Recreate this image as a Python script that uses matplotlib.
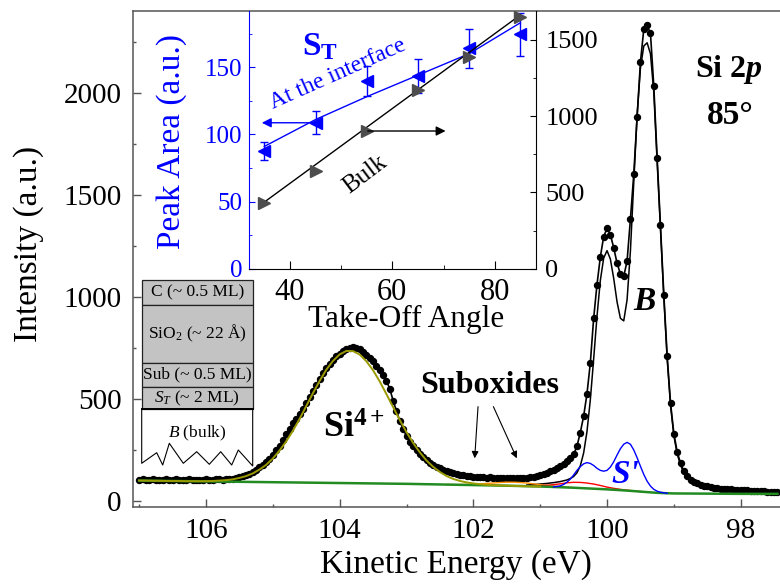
import numpy as np
import matplotlib
matplotlib.use('Agg')
import matplotlib.pyplot as plt
from matplotlib.patches import Rectangle
from matplotlib.ticker import MultipleLocator

plt.rcParams['font.family'] = ['Liberation Serif', 'DejaVu Serif']
plt.rcParams['mathtext.fontset'] = 'custom'
plt.rcParams['mathtext.rm'] = 'Liberation Serif'
plt.rcParams['mathtext.it'] = 'Liberation Serif:italic'
plt.rcParams['mathtext.bf'] = 'Liberation Serif:bold'
plt.rcParams['mathtext.bfit'] = 'Liberation Serif:italic:bold'

# ---------------- main spectrum data (Si 2p, 85 deg) ----------------
E_START = 107.0
E_STEP = 0.05
counts = [
    104, 106, 103, 105, 107, 104, 105, 103, 106, 104,
    105, 107, 104, 103, 105, 106, 104, 105, 103, 104,
    106, 105, 104, 106, 107, 105, 108, 107, 109,
    112, 117, 121, 128, 134, 143, 152, 165, 178, 190,
    205, 225, 248, 270, 298, 328, 355, 380, 402, 425,
    452, 480, 510, 540, 570, 598, 625, 650, 672, 692,
    710, 722, 735, 745, 750, 753, 750, 742, 730, 716,
    700, 684, 662, 640, 616, 590, 548, 492, 440, 392,
    352, 318, 290, 268, 248, 230, 214, 200, 188, 177,
    168, 160, 153, 147, 142, 138, 133, 129, 126, 123,
    121, 119, 118, 116, 117, 115, 116, 114, 115, 113,
    114, 112, 114, 113, 112, 114, 113, 115, 117, 119,
    122, 125,
    130, 137, 145, 153, 162, 172, 183, 195, 210, 228,
    268, 335, 415, 525, 675, 895, 1060, 1195, 1295, 1335,
    1305, 1240, 1165, 1112, 1100, 1175, 1380, 1600, 1880, 2150,
    2310, 2330, 2290, 2030, 1680, 1350, 1010, 710, 480, 330,
    240, 185, 145, 120, 105, 95, 87, 80, 75, 71,
    68, 65, 63, 61, 59, 58, 57, 56, 55, 54,
    53, 52, 51, 50, 49, 48, 47, 46, 45, 45,
    44,
]
energy = np.round(E_START - E_STEP * np.arange(len(counts)), 2)

# Si4+ component (on background), 0.1 eV steps from 107.0 eV
SI4_START = 107.0
SI4_STEP = 0.1
si4_fit = [
    100, 100, 99, 99, 98, 98, 98, 97, 97, 97,
    97, 98, 100, 102, 106, 113, 122, 135, 154, 177,
    208, 247, 292, 344, 402, 465, 528, 588, 643, 686,
    718, 735, 734, 717, 684, 640, 585, 523, 460, 396,
    337, 284, 238, 198, 167, 142, 122, 108, 98, 91,
    86, 82, 79, 77, 76, 75, 74, 73, 72, 71.5, 71,
]
si4_energy = np.round(SI4_START - SI4_STEP * np.arange(len(si4_fit)), 2)

# background
bg_energy = [107.0, 106.0, 105.0, 104.0, 103.0, 102.5, 102.0, 101.5, 101.0,
             100.5, 100.0, 99.9, 99.75, 99.6, 99.5, 99.4, 99.25, 99.1, 99.0,
             98.5, 98.0, 97.45]
bg_fit = [100, 96, 92, 88, 84, 81, 78, 75, 71,
          65, 57, 55, 52, 48.5, 46, 43.5, 40, 38, 37,
          36, 35, 35]

# bulk component B (on background)
b_energy = [101.2, 101.0, 100.9, 100.8, 100.7, 100.6, 100.55, 100.5, 100.45, 100.4,
            100.35, 100.3, 100.25, 100.2, 100.15, 100.1, 100.05, 100.0, 99.95, 99.9,
            99.85, 99.8, 99.75, 99.7, 99.65, 99.6, 99.55, 99.5, 99.45, 99.4,
            99.35, 99.3, 99.25, 99.2, 99.15, 99.1, 99.05, 99.0, 98.95, 98.9,
            98.85, 98.8, 98.75, 98.7, 98.65, 98.6, 98.55, 98.5, 98.4, 98.3,
            98.2, 98.0, 97.8, 97.6, 97.45]
b_fit = [78, 83, 86, 90, 95, 103, 110, 120, 138, 172,
         235, 340, 495, 695, 905, 1080, 1190, 1226, 1185, 1090,
         975, 895, 882, 985, 1225, 1560, 1890, 2120, 2228, 2244,
         2190, 2000, 1660, 1330, 995, 695, 468, 320, 230, 176,
         138, 113, 98, 88, 80, 74, 69, 65, 60, 57,
         55, 52, 49, 46, 44]

# S' component (on background), 0.05 eV steps from 100.80 eV
SP_START = 100.80
SP_STEP = 0.05
sprime_fit = [69, 71, 74, 81, 92, 107, 127, 150, 168, 182,
              188, 184, 174, 160, 150, 146, 150, 166, 192, 225,
              256, 278, 287, 278, 250, 212, 170, 130, 97, 73,
              57, 48, 43, 40, 38]
sprime_energy = np.round(SP_START - SP_STEP * np.arange(len(sprime_fit)), 2)

# suboxide components (on background), 0.1 eV steps
RED_START = 101.2
red_fit = [73, 74, 75, 77, 80, 84, 89, 91.5, 91, 88, 83, 76, 68, 62, 57, 53, 49.5, 46]
red_energy = np.round(RED_START - 0.1 * np.arange(len(red_fit)), 2)
ORA_START = 102.4
orange_fit = [81, 80.5, 80.5, 81, 82, 84, 86, 88, 90.5, 92, 92, 90.5, 88, 84, 80, 76,
              73, 70, 67.5, 65.5, 63.7]
orange_energy = np.round(ORA_START - 0.1 * np.arange(len(orange_fit)), 2)

# ---------------- inset data ----------------
angles = [35, 45, 55, 65, 75, 85]
st_area = [87.7, 108.6, 139.8, 143.3, 163.9, 174.5]
st_err = [6.8, 8.7, 11.0, 12.9, 14.3, 16.0]
st_fit = [91, 111, 128, 144, 160, 183]
bulk_area = [433, 641, 903, 1172, 1386, 1652]
bulk_fit_angles = [35, 85]
bulk_fit = [437, 1664]

# ---------------- figure ----------------
fig = plt.figure(figsize=(7.8, 5.86), dpi=100)
ax = fig.add_axes([0.1701, 0.1353, 0.8299, 0.8464])
ax.set_zorder(0)

ax.plot(b_energy, b_fit, color='k', lw=1.1, zorder=3)
ax.plot(energy, counts, '-', color='k', lw=1.2, marker='o', ms=4.3, zorder=4)
ax.plot(orange_energy, orange_fit, color='#ff8c00', lw=1.0, zorder=5)
ax.plot(red_energy, red_fit, color='#ff0000', lw=1.0, zorder=5)
ax.plot(bg_energy, bg_fit, color='#228B22', lw=1.8, zorder=6)
ax.plot(si4_energy, si4_fit, color='#9a9a00', lw=1.4, zorder=6)
ax.plot(sprime_energy, sprime_fit, color='#0000ff', lw=1.0, zorder=6)

ax.set_xlim(107.097, 97.412)
ax.set_ylim(-28, 2401)
ax.xaxis.set_major_locator(MultipleLocator(2))
ax.xaxis.set_minor_locator(MultipleLocator(1))
ax.yaxis.set_major_locator(MultipleLocator(500))
ax.yaxis.set_minor_locator(MultipleLocator(250))
ax.tick_params(which='both', direction='in', colors='#555555', labelcolor='k',
               labelsize=21, top=False, right=False, width=1)
ax.tick_params(which='major', length=5.5)
ax.tick_params(which='minor', length=2.5)
ax.tick_params(axis='x', pad=8)
ax.tick_params(axis='y', pad=8)
for s in ['left', 'bottom', 'top']:
    ax.spines[s].set_color('#555555')
    ax.spines[s].set_linewidth(1.1)
ax.spines['right'].set_visible(False)
ax.set_xlabel('Kinetic Energy (eV)', fontsize=24, labelpad=4)
ax.set_ylabel('Intensity (a.u.)', fontsize=24)
ax.yaxis.set_label_coords(-0.137, 0.53)

ax.text(98.17, 2078, r'Si 2$\mathbfit{p}$', fontweight='bold', fontsize=23,
        ha='center', va='baseline')
ax.text(98.16, 1847, '85°', fontweight='bold', fontsize=24, ha='center', va='baseline')
ax.text(99.44, 936, 'B', fontstyle='italic', fontweight='bold', fontsize=24,
        ha='center', va='baseline', zorder=8)
ax.text(99.73, 87, "S'", fontstyle='italic', fontweight='bold', fontsize=24,
        color='#0000ff', ha='center', va='baseline', zorder=8)
ax.text(103.79, 309, r'Si$^{\mathbf{4+}}$', fontweight='bold', fontsize=26,
        ha='center', va='baseline', zorder=8)
ax.text(101.75, 527, 'Suboxides', fontweight='bold', fontsize=23,
        ha='center', va='baseline', zorder=8)
arrow_kw = dict(arrowstyle='-|>', lw=0.8, color='k', mutation_scale=10,
                shrinkA=0, shrinkB=0)
ax.annotate('', xy=(101.98, 209), xytext=(101.93, 462), arrowprops=arrow_kw)
ax.annotate('', xy=(101.35, 209), xytext=(101.70, 462), arrowprops=arrow_kw)

# ---------------- layer schematic (decoration) ----------------
ov = fig.add_axes([0, 0, 1, 1])
ov.set_zorder(1)
ov.set_xlim(0, 780)
ov.set_ylim(586, 0)
ov.axis('off')
ov.patch.set_alpha(0)
bx0, bx1 = 141.7, 252.7
layers = [(280, 305, 'C (~ 0.5 ML)'),
          (305, 362.7, r'SiO$_2$ (~ 22 Å)'),
          (362.7, 386.7, 'Sub (~ 0.5 ML)'),
          (386.7, 409.3, r'$S_T$ (~ 2 ML)')]
for top, bot, lab in layers:
    ov.add_patch(Rectangle((bx0, top), bx1 - bx0, bot - top, facecolor='#c3c3c3',
                           edgecolor='#222222', lw=0.9))
    ov.text((bx0 + bx1) / 2, (top + bot) / 2, lab, ha='center', va='center', fontsize=12.5)
zig_x = [bx0, bx0, 156.7, 162.7, 169.3, 183.3, 196.7, 209.3, 220.7, 231.7, 238.3, bx1, bx1]
zig_y = [409.3, 463.3, 452.7, 465, 443.3, 463.3, 451.7, 464.3, 451.7, 465, 450, 466, 409.3]
ov.plot(zig_x, zig_y, color='k', lw=0.8)
ov.plot([bx0, bx1], [409.3, 409.3], color='k', lw=1.4)
ov.text((bx0 + bx1) / 2, 433.3, r'$B$ (bulk)', ha='center', va='center', fontsize=12.5)

# ---------------- inset ----------------
ax_in = fig.add_axes([249 / 780, (586 - 268.7) / 586, 286.7 / 780, 258 / 586])
ax_in.set_zorder(3)
ax_in.patch.set_alpha(0)
ax_r = ax_in.twinx()
ax_r.set_zorder(4)

ax_in.plot(angles, st_fit, color='#0000ff', lw=1.0)
ax_in.errorbar(angles, st_area, yerr=st_err, fmt='none', ecolor='#0000ff',
               elinewidth=1.0, capsize=3, capthick=1.0)
ax_in.plot(angles, st_area, '<', color='#0000ff', ms=8, mec='#0000ff')
ax_r.plot(bulk_fit_angles, bulk_fit, '-', color='k', lw=1.0)
ax_r.plot(angles, bulk_area, '>', color='#4d4d4d', ms=8.6, mec='#4d4d4d')

ax_in.set_xlim(32, 88)
ax_in.set_ylim(0, 192)
ax_r.set_ylim(0, 1692)
ax_in.xaxis.set_major_locator(MultipleLocator(20))
ax_in.xaxis.set_minor_locator(MultipleLocator(10))
ax_in.yaxis.set_major_locator(MultipleLocator(50))
ax_in.yaxis.set_minor_locator(MultipleLocator(25))
ax_r.yaxis.set_major_locator(MultipleLocator(500))
ax_r.yaxis.set_minor_locator(MultipleLocator(250))

ax_in.tick_params(axis='x', which='both', direction='in', top=False, labelsize=22,
                  pad=7, colors='k')
ax_in.tick_params(axis='x', which='major', length=6)
ax_in.tick_params(axis='x', which='minor', length=2.8)
ax_in.tick_params(axis='y', which='both', direction='in', colors='#0000ff',
                  labelsize=18, pad=5)
ax_in.tick_params(axis='y', which='major', length=4.5)
ax_in.tick_params(axis='y', which='minor', length=2.5)
ax_r.tick_params(axis='y', which='both', direction='in', colors='k', labelsize=19, pad=7)
ax_r.tick_params(axis='y', which='major', length=4.5)
ax_r.tick_params(axis='y', which='minor', length=2.5)

ax_in.spines['top'].set_visible(False)
ax_in.spines['right'].set_visible(False)
ax_in.spines['left'].set_color('#0000ff')
ax_r.spines['top'].set_visible(False)
ax_r.spines['left'].set_visible(False)
ax_r.spines['bottom'].set_visible(False)

ax_in.text(0.547, -0.226, 'Take-Off Angle', transform=ax_in.transAxes,
           ha='center', va='baseline', fontsize=22.5)
ax_in.text(-0.27, 0.492, 'Peak Area (a.u.)', transform=ax_in.transAxes, rotation=90,
           ha='center', va='center', fontsize=24, color='#0000ff')
ax_in.text(45.96, 158.9, r'S$_{\mathbf{T}}$', color='#0000ff', fontweight='bold',
           fontsize=24, ha='center', va='baseline')
ax_in.text(49.3, 144.8, 'At the interface', rotation=24, rotation_mode='anchor',
           ha='center', va='center', color='#0000ff', fontsize=17)
ax_in.text(54.6, 69.7, 'Bulk', rotation=37, rotation_mode='anchor',
           ha='center', va='center', color='k', fontsize=18)
ax_in.annotate('', xy=(34.5, st_area[1]), xytext=(44.2, st_area[1]),
               arrowprops=dict(arrowstyle='-|>', color='#0000ff', lw=1.0,
                               mutation_scale=14, shrinkA=0, shrinkB=0))
ax_r.annotate('', xy=(70.4, bulk_area[2]), xytext=(55.2, bulk_area[2]),
              arrowprops=dict(arrowstyle='-|>', color='k', lw=1.0,
                              mutation_scale=14, shrinkA=0, shrinkB=0))

fig.savefig('out.png', dpi=100)
